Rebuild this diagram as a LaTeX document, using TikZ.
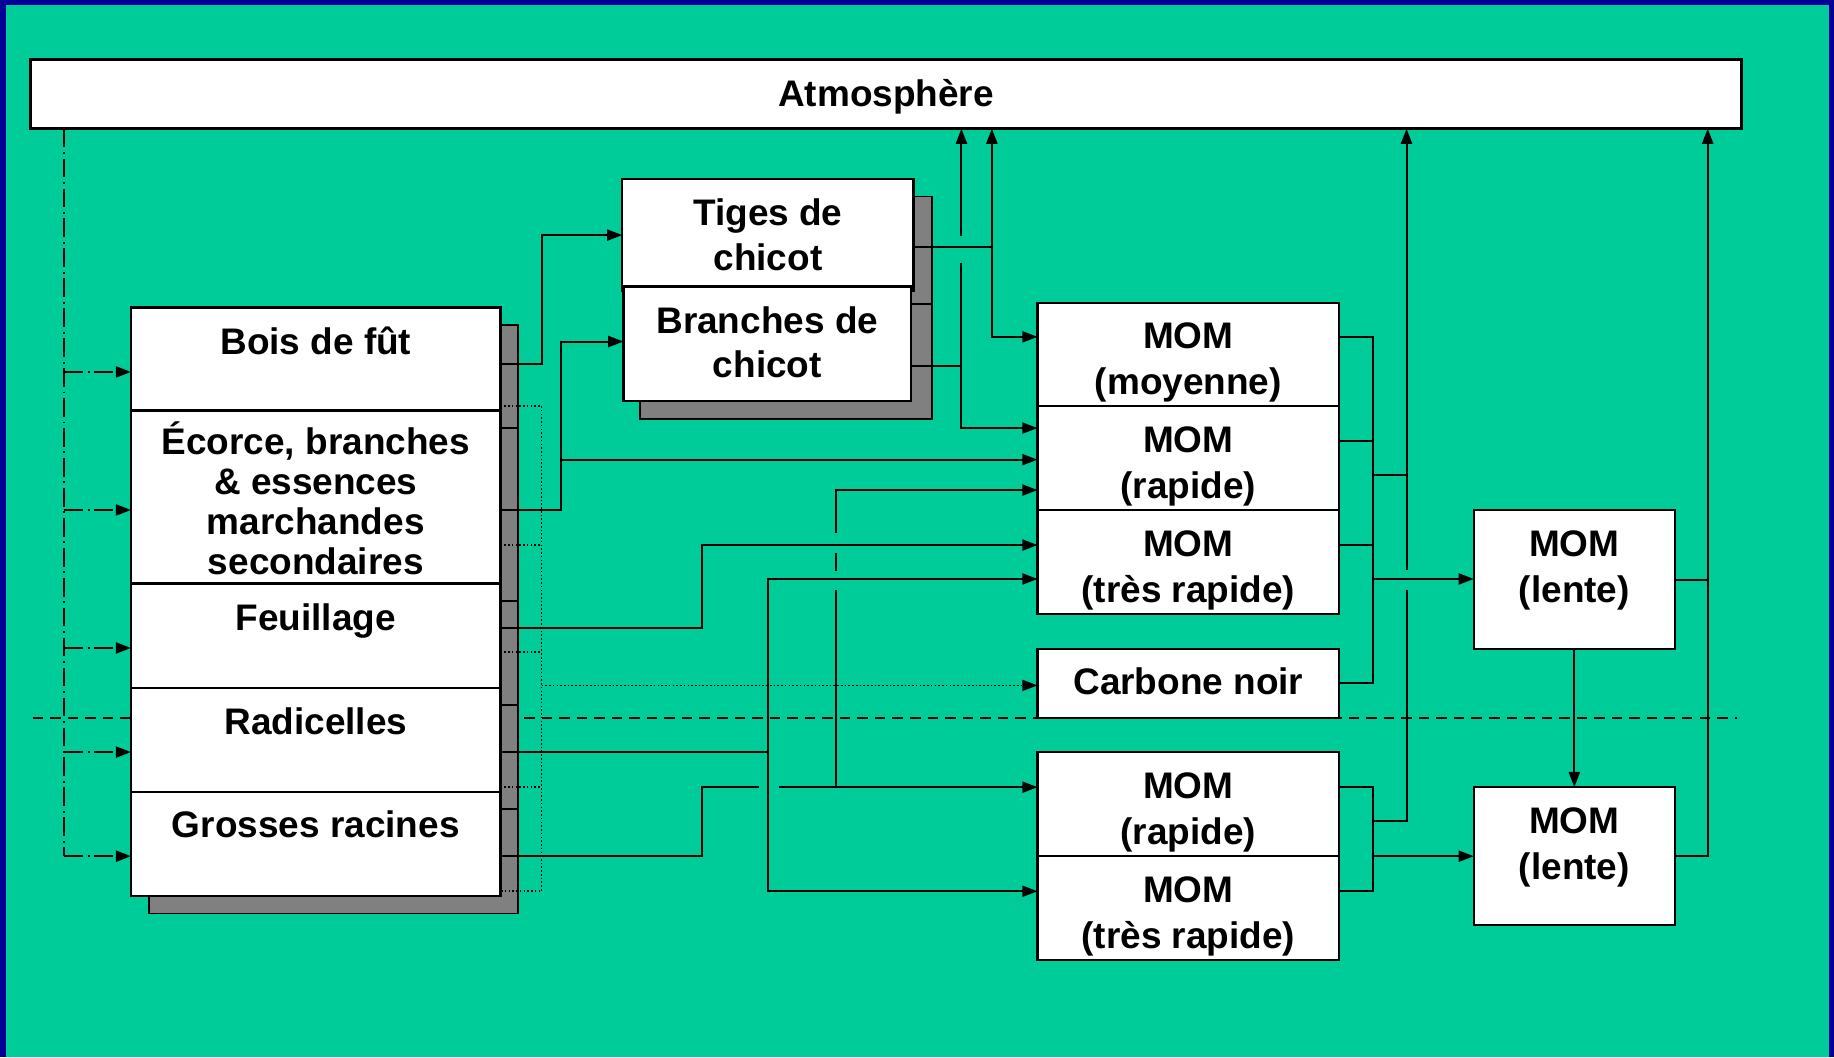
\documentclass[tikz,border=0pt]{standalone}
\usepackage{fontspec}
\setmainfont{Liberation Sans}
\usetikzlibrary{arrows.meta}
\definecolor{bggreen}{RGB}{0,204,153}
\definecolor{frameblue}{RGB}{0,0,153}
\definecolor{shadowgray}{RGB}{128,128,128}
\newcommand{\mkbox}[6]{\node[#6, minimum width=#4pt, minimum height=#5pt] (#1) at (#2,#3) {};}
\begin{document}
\begin{tikzpicture}[x=1pt,y=-1pt,line join=miter,
  mybox/.style={draw=black, fill=white, line width=2pt, inner sep=0pt, outer sep=0pt, rectangle},
  myshadow/.style={draw=black, fill=shadowgray, line width=1.7pt, inner sep=0pt, outer sep=0pt, rectangle},
  mylbl/.style={font=\fontsize{31.6}{38}\selectfont\bfseries, anchor=base, inner sep=0pt},
  myconn/.style={line width=1.7pt, draw=black},
  myarr/.style={-{Triangle[length=13pt,width=9.5pt]}},
  myarrs/.style={{Triangle[length=13pt,width=9.5pt]}-{Triangle[length=13pt,width=9.5pt]}},
  mydotted/.style={line width=1.4pt, dash pattern=on 1.4pt off 1.8pt},
  mydashdot/.style={dash pattern=on 16pt off 4pt on 1.6pt off 4pt},
  mydashed/.style={dash pattern=on 9pt off 6pt}]
\useasboundingbox (0,0) rectangle (1568,904);
\fill[frameblue] (0,0) rectangle (1568,904);
\fill[bggreen] (5.5,4.5) rectangle (1563.5,904);

% dashed ground line
\draw[myconn,mydashed] (28,614) -- (1485,614);

% shadows
\mkbox{sbois}{285}{322}{316}{88}{myshadow}
\mkbox{secorce}{285}{440}{316}{148}{myshadow}
\mkbox{sfeuil}{285}{558.5}{316}{89}{myshadow}
\mkbox{sradic}{285}{647.5}{316}{89}{myshadow}
\mkbox{sgros}{285}{736.5}{316}{89}{myshadow}
\mkbox{stiges}{672}{214}{250}{92}{myshadow}
\mkbox{sbranch}{672}{309}{250}{98}{myshadow}

% boxes
\mkbox{atm}{757.5}{80.5}{1463}{59}{mybox}
\mkbox{tiges}{656.5}{201}{249}{96}{mybox}
\mkbox{branch}{656}{294}{246}{98}{mybox}
\mkbox{bois}{270}{307}{316}{88}{mybox}
\mkbox{ecorce}{270}{425}{316}{148}{mybox}
\mkbox{feuil}{270}{543.5}{316}{89}{mybox}
\mkbox{radic}{270}{632.5}{316}{89}{mybox}
\mkbox{gros}{270}{721.5}{316}{89}{mybox}
\mkbox{mommoy}{1016}{303}{258}{88}{mybox}
\mkbox{momrapA}{1016}{391.5}{258}{89}{mybox}
\mkbox{momtrA}{1016}{480.5}{258}{89}{mybox}
\mkbox{carbone}{1016}{584.5}{258}{59}{mybox}
\mkbox{momrapB}{1016}{687.5}{258}{89}{mybox}
\mkbox{momtrB}{1016}{776.5}{258}{89}{mybox}
\mkbox{lenteA}{1346}{495.5}{172}{119}{mybox}
\mkbox{lenteB}{1346}{732}{172}{118}{mybox}

% labels
\node[mylbl] (tatm) at (757.5,91) {Atmosphère};
\node[mylbl] (ttiges1) at (656.5,193) {Tiges de};
\node[mylbl] (ttiges2) at (656.5,231) {chicot};
\node[mylbl] (tbranch1) at (656,285) {Branches de};
\node[mylbl] (tbranch2) at (656,323) {chicot};
\node[mylbl] (tbois) at (270,303) {Bois de fût};
\node[mylbl] (tecorce1) at (270,389) {Écorce, branches};
\node[mylbl] (tecorce2) at (270,423) {\& essences};
\node[mylbl] (tecorce3) at (270,457) {marchandes};
\node[mylbl] (tecorce4) at (270,491) {secondaires};
\node[mylbl] (tfeuil) at (270,539) {Feuillage};
\node[mylbl] (tradic) at (270,628) {Radicelles};
\node[mylbl] (tgros) at (270,716) {Grosses racines};
\node[mylbl] (tmoy1) at (1016,298) {MOM};
\node[mylbl] (tmoy2) at (1016,337) {(moyenne)};
\node[mylbl] (trapA1) at (1016,387) {MOM};
\node[mylbl] (trapA2) at (1016,426) {(rapide)};
\node[mylbl] (ttrA1) at (1016,476) {MOM};
\node[mylbl] (ttrA2) at (1016,515) {(très rapide)};
\node[mylbl] (tcarb) at (1016,594) {Carbone noir};
\node[mylbl] (trapB1) at (1016,683) {MOM};
\node[mylbl] (trapB2) at (1016,722) {(rapide)};
\node[mylbl] (ttrB1) at (1016,772) {MOM};
\node[mylbl] (ttrB2) at (1016,811) {(très rapide)};
\node[mylbl] (tlenA1) at (1346,476) {MOM};
\node[mylbl] (tlenA2) at (1346,515) {(lente)};
\node[mylbl] (tlenB1) at (1346,713) {MOM};
\node[mylbl] (tlenB2) at (1346,752) {(lente)};

% dash-dot inputs from atmosphere
\draw[myconn,mydashdot] (atm.south -| 55,0) -- (55,732);
\foreach \n/\y in {bois/318, ecorce/436, feuil/554, radic/643, gros/732}
  \draw[myconn,mydashdot,myarr] (55,\y) -- (\n.west |- 0,\y);

% dotted to black carbon
\draw[myconn,mydotted] (bois.east |- 0,347) -| (463,762) -- (gros.east |- 0,762);
\foreach \n/\y in {ecorce/466, feuil/557.5, radic/673}
  \draw[myconn,mydotted] (\n.east |- 0,\y) -- (463,\y);
\draw[myconn,mydotted,myarr] (463,586) -- (carbone.west |- 0,586);

% from the living pools
\draw[myconn,myarr] (bois.east |- 0,311) -| (463,201) -- (tiges.west |- 0,201);
\draw[myconn,myarr] (ecorce.east |- 0,436) -| (480,292) -- (branch.west |- 0,292);
\draw[myconn,myarr] (480,393) -- (momrapA.west |- 0,393);
\draw[myconn,myarr] (feuil.east |- 0,537) -| (600,466) -- (momtrA.west |- 0,466);
\draw[myconn,myarr] (radic.east |- 0,643) -| (657,495) -- (momtrA.west |- 0,495);
\draw[myconn,myarr] (657,643) |- (momtrB.west |- 0,762);
\draw[myconn] (gros.east |- 0,732) -| (600,673) -- (649,673);
\draw[myconn,myarr] (666,673) -- (momrapB.west |- 0,673);
\draw[myconn] (715,673) -- (715,504);
\draw[myconn] (715,488) -- (715,473);
\draw[myconn,myarr] (715,456) |- (momrapA.west |- 0,419);

% snags
\draw[myconn] (tiges.east |- 0,211) -- (848,211);
\draw[myconn,myarrs] (atm.south -| 848,0) |- (mommoy.west |- 0,288);
\draw[myconn] (branch.east |- 0,313) -- (822,313);
\draw[myconn,myarr] (822,202) -- (atm.south -| 822,0);
\draw[myconn,myarr] (822,225) |- (momrapA.west |- 0,366);

% right collectors
\draw[myconn] (mommoy.east |- 0,288) -| (1174,584) -- (carbone.east |- 0,584);
\draw[myconn] (momrapA.east |- 0,377) -- (1174,377);
\draw[myconn] (momtrA.east |- 0,466) -- (1174,466);
\draw[myconn] (1174,406.5) -- (1202.5,406.5);
\draw[myconn,myarr] (1174,495) -- (lenteA.west |- 0,495);
\draw[myconn,myarr] (1202.5,487) -- (atm.south -| 1202.5,0);
\draw[myconn] (1202.5,504) |- (1174,702);
\draw[myconn] (momrapB.east |- 0,673) -| (1174,762) -- (momtrB.east |- 0,762);
\draw[myconn,myarr] (1174,732) -- (lenteB.west |- 0,732);
\draw[myconn,myarr] (lenteB.east) -| (atm.south -| 1460,0);
\draw[myconn] (lenteA.east) -- (lenteA.east -| 1460,0);
\draw[myconn,myarr] (lenteA.south) -- (lenteB.north);
\end{tikzpicture}
\end{document}
